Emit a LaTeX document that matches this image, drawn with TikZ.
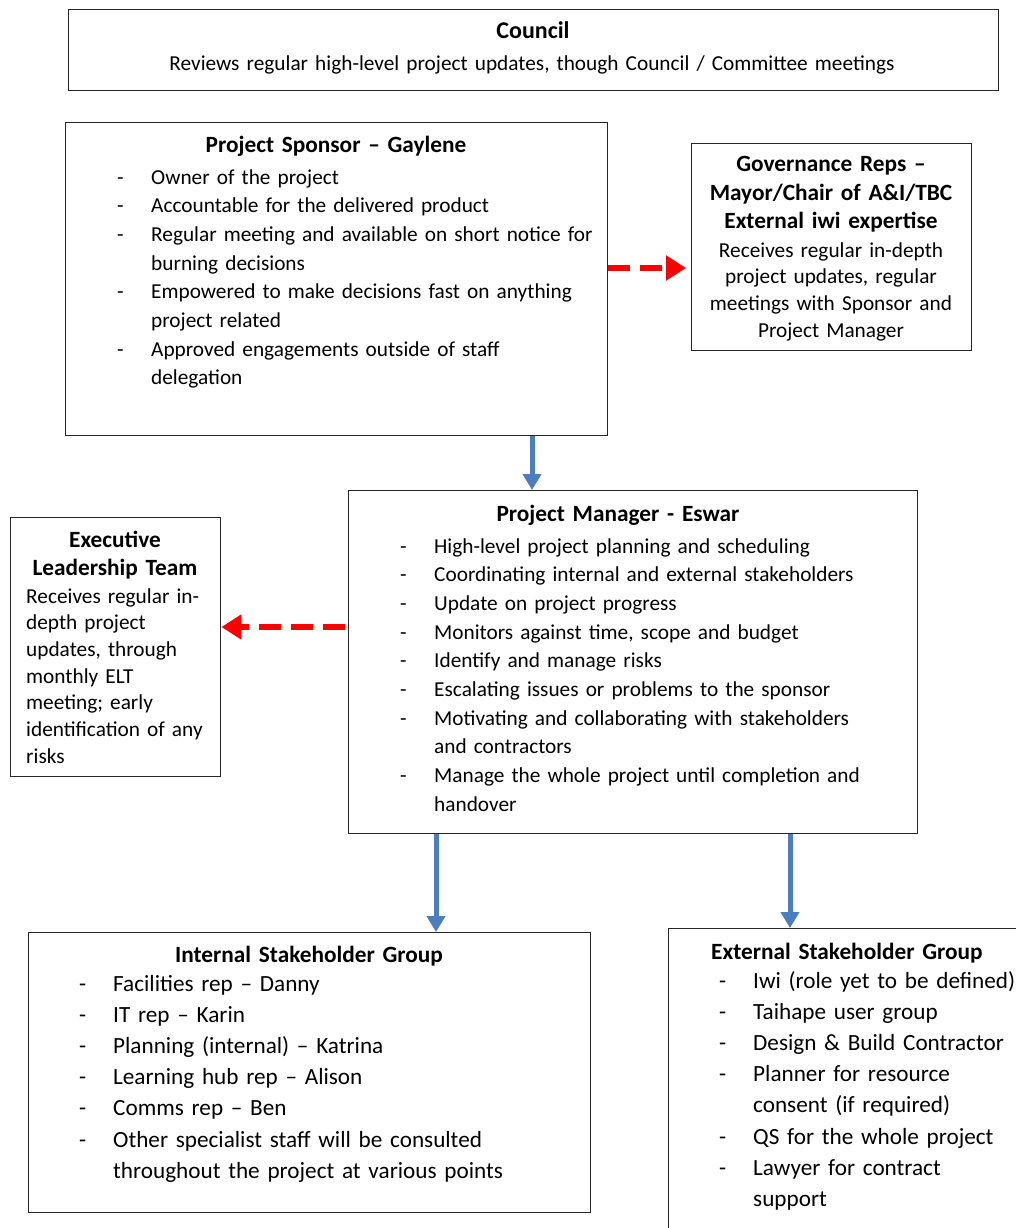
\documentclass[tikz,border=0pt]{standalone}
\usepackage{fontspec}
\setmainfont{Carlito}
\usetikzlibrary{arrows.meta}

\definecolor{linkblue}{RGB}{74,126,193}

\newcommand{\itm}[1]{\makebox[34pt][l]{-}#1}
\newcommand{\cnt}{\hspace*{34pt}}

\begin{document}
\begin{tikzpicture}[x=1pt,y=-1pt,
    box/.style={draw=black!85, line width=1.4pt, anchor=north west, inner sep=0pt},
    txt/.style={inner sep=0pt, text width=#1, align=left, anchor=base west},
    txt/.default=700pt,
    ctr/.style={inner sep=0pt, text width=#1, align=center, anchor=base},
    ctr/.default=700pt,
    head/.style={font=\fontsize{23.3}{#1}\bfseries},
    head/.default=28.7,
    big/.style={font=\fontsize{23.2}{31.2}\selectfont},
    down/.style={draw=linkblue, line width=5pt, -{Triangle[width=18pt,length=16pt]}},
    side/.style={draw=red, line width=6pt, dash pattern=on 22pt off 10pt,
        -{Triangle[width=24pt,length=20pt]}},
    font=\fontsize{21.3}{28.7}\selectfont]
    \useasboundingbox (0,0) rectangle (1016,1228);

    % Boxes
    \node[box, minimum width=930, minimum height=81] (council) at (68,9) {};
    \node[box, minimum width=542, minimum height=313] (sponsor) at (65,122) {};
    \node[box, minimum width=280, minimum height=207] (gov) at (691,143) {};
    \node[box, minimum width=569, minimum height=343] (pm) at (348,490) {};
    \node[box, minimum width=210, minimum height=259] (elt) at (10,517) {};
    \node[box, minimum width=562, minimum height=280] (internal) at (28,932) {};
    \node[box, minimum width=400, minimum height=340] (external) at (668,928) {};

    % Council
    \node[ctr, font=\fontsize{24}{28.7}\bfseries] (councilhead) at (533,39) {Council};
    \node[ctr=900pt] (counciltxt) at (532,71)
        {Reviews regular high-level project updates, though Council / Committee meetings};

    % Project Sponsor
    \node[ctr, head] (sponsorhead) at (336,152) {Project Sponsor -- Gaylene};
    \node[txt] (sponsortxt) at (117,184) {%
        \itm{Owner of the project}\\
        \itm{Accountable for the delivered product}\\
        \itm{Regular meeting and available on short notice for}\\
        \cnt burning decisions\\
        \itm{Empowered to make decisions fast on anything}\\
        \cnt project related\\
        \itm{Approved engagements outside of staff}\\
        \cnt delegation};

    % Governance
    \node[ctr=270pt, head=29] (govhead) at (831,171)
        {Governance Reps --\\ Mayor/Chair of A\&I/TBC\\ External iwi expertise};
    \node[ctr=270pt, font=\fontsize{21.3}{26.7}\selectfont] (govtxt) at (831,257)
        {Receives regular in-depth\\ project updates, regular\\ meetings with Sponsor and\\ Project Manager};

    % Project Manager
    \node[ctr, head] (pmhead) at (618,521) {Project Manager - Eswar};
    \node[txt] (pmtxt) at (400,553) {%
        \itm{High-level project planning and scheduling}\\
        \itm{Coordinating internal and external stakeholders}\\
        \itm{Update on project progress}\\
        \itm{Monitors against time, scope and budget}\\
        \itm{Identify and manage risks}\\
        \itm{Escalating issues or problems to the sponsor}\\
        \itm{Motivating and collaborating with stakeholders}\\
        \cnt and contractors\\
        \itm{Manage the whole project until completion and}\\
        \cnt handover};

    % Executive Leadership Team
    \node[ctr=200pt, head=28] (elthead) at (115,547) {Executive\\ Leadership Team};
    \node[txt=200pt, font=\fontsize{21.3}{26.7}\selectfont] (elttxt) at (26,603)
        {Receives regular in-\\ depth project\\ updates, through\\ monthly ELT\\
        meeting; early\\ identification of any\\ risks};

    % Internal Stakeholder Group
    \node[ctr, head] (inthead) at (309,962) {Internal Stakeholder Group};
    \node[txt, big] (inttxt) at (79,991) {%
        \itm{Facilities rep -- Danny}\\
        \itm{IT rep -- Karin}\\
        \itm{Planning (internal) -- Katrina}\\
        \itm{Learning hub rep -- Alison}\\
        \itm{Comms rep -- Ben}\\
        \itm{Other specialist staff will be consulted}\\
        \cnt throughout the project at various points};

    % External Stakeholder Group
    \node[txt, head] (exthead) at (711,959) {External Stakeholder Group};
    \node[txt, big] (exttxt) at (719,988) {%
        \itm{Iwi (role yet to be defined)}\\
        \itm{Taihape user group}\\
        \itm{Design \& Build Contractor}\\
        \itm{Planner for resource}\\
        \cnt consent (if required)\\
        \itm{QS for the whole project}\\
        \itm{Lawyer for contract}\\
        \cnt support};

    % Connectors
    \draw[down] (sponsor.south -| 532,0) -- (pm.north -| 532,0);
    \draw[down] (pm.south -| 436,0) -- (internal.north -| 436,0);
    \draw[down] (pm.south -| 790,0) -- (external.north -| 790,0);
    \draw[side, shorten >=5pt] (sponsor.east |- 0,268) -- (gov.west |- 0,268);
    \draw[side, shorten <=3pt] (pm.west |- 0,627) -- (elt.east |- 0,627);
\end{tikzpicture}
\end{document}
